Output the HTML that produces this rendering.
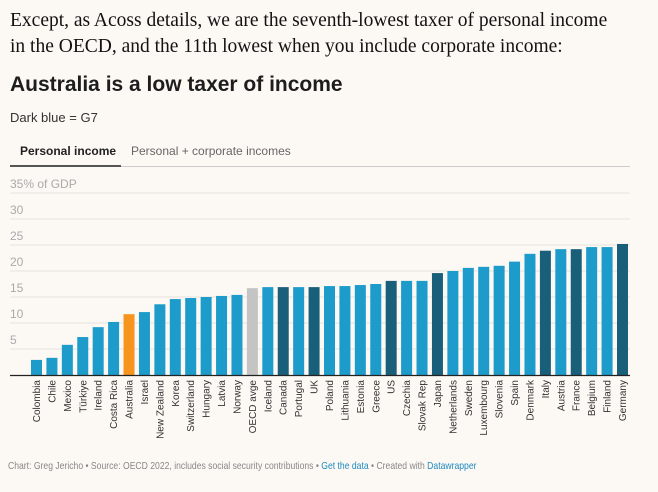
<!DOCTYPE html>
<html><head><meta charset="utf-8"><style>
body{margin:0;width:658px;height:492px;background:#fcf8f4;overflow:hidden;position:relative;font-family:"Liberation Sans",sans-serif}
.a{position:absolute;white-space:nowrap}
</style></head><body>
<div class="a" style="left:10px;top:8px;font-family:'Liberation Serif',serif;font-size:19.5px;line-height:26px;color:#121212">Except, as Acoss details, we are the seventh-lowest taxer of personal income<br>in the OECD, and the 11th lowest when you include corporate income:</div>
<div class="a" style="left:10px;top:73px;font-size:21px;font-weight:bold;color:#1d1d1d">Australia is a low taxer of income</div>
<div class="a" style="left:10px;top:110px;font-size:13px;color:#333">Dark blue = G7</div>
<div class="a" style="left:20px;top:144px;font-size:12px;font-weight:bold;color:#222">Personal income</div>
<div class="a" style="left:131px;top:144px;font-size:12px;color:#666">Personal + corporate incomes</div>
<div class="a" style="left:10px;top:166px;width:620px;height:1px;background:#ccc"></div>
<div class="a" style="left:10px;top:165px;width:111px;height:2px;background:#555"></div>
<svg class="a" style="left:0;top:0" width="658" height="492" id="chart"></svg>
<div class="a" style="left:8px;top:460px;font-size:10.5px;color:#888;transform:scaleX(0.82);transform-origin:0 0">Chart: Greg Jericho • Source: OECD 2022, includes social security contributions • <span style="color:#1d8ac0">Get the data</span> • Created with <span style="color:#1d8ac0">Datawrapper</span></div>
<script>
const categories=["Colombia","Chile","Mexico","Türkiye","Ireland","Costa Rica","Australia","Israel","New Zealand","Korea","Switzerland","Hungary","Latvia","Norway","OECD avge","Iceland","Canada","Portugal","UK","Poland","Lithuania","Estonia","Greece","US","Czechia","Slovak Rep","Japan","Netherlands","Sweden","Luxembourg","Slovenia","Spain","Denmark","Italy","Austria","France","Belgium","Finland","Germany"];
const values=[2.9,3.3,5.8,7.3,9.2,10.2,11.7,12.1,13.6,14.6,14.8,15.0,15.2,15.4,16.7,16.9,16.9,16.9,16.9,17.1,17.1,17.3,17.5,18.1,18.1,18.1,19.6,20.0,20.6,20.8,21.0,21.8,23.3,23.9,24.2,24.2,24.6,24.6,25.2];
const g7=["Canada","UK","US","Japan","Italy","France","Germany"];
const ticks=[5,10,15,20,25,30,35];
const tickLabels=["5","10","15","20","25","30","35% of GDP"];
const svg=document.getElementById('chart');const NS="http://www.w3.org/2000/svg";
const y0=375,pxPer=5.2,x0=31,pitch=(617-31)/(categories.length-1),bw=11;
const y=v=>y0-v*pxPer, x=i=>x0+i*pitch;
function mk(t,a){const e=document.createElementNS(NS,t);for(const k in a)e.setAttribute(k,a[k]);svg.appendChild(e);return e;}
ticks.forEach((t,i)=>{
 const l=mk('line',{x1:10,x2:630,y1:y(t),y2:y(t),stroke:'#e6e2dd','stroke-width':1});
 
 
 const tx=mk('text',{x:10,y:y(t)-5,'font-size':12,fill:'#aaa','font-family':'Liberation Sans'});
 tx.textContent=tickLabels[i];
 
 
});
categories.forEach((c,i)=>{
 const col=c==="Australia"?'#f7941d':c==="OECD avge"?'#c4c4c4':g7.includes(c)?'#1a5f7a':'#1d9bcb';
 const r=mk('rect',{x:x(i),y:y(values[i]),width:bw,height:values[i]*pxPer,fill:col});
 
 
 const t=mk('text',{transform:`translate(${x(i)+bw/2+3.5},380) rotate(-90)`,'text-anchor':'end','font-size':10,fill:'#333','font-family':'Liberation Sans'});
 t.textContent=c;
 
 
});
const ax=mk('line',{x1:10,x2:630,y1:y0+0.5,y2:y0+0.5,stroke:'#222','stroke-width':1.2});


</script>
</body></html>
